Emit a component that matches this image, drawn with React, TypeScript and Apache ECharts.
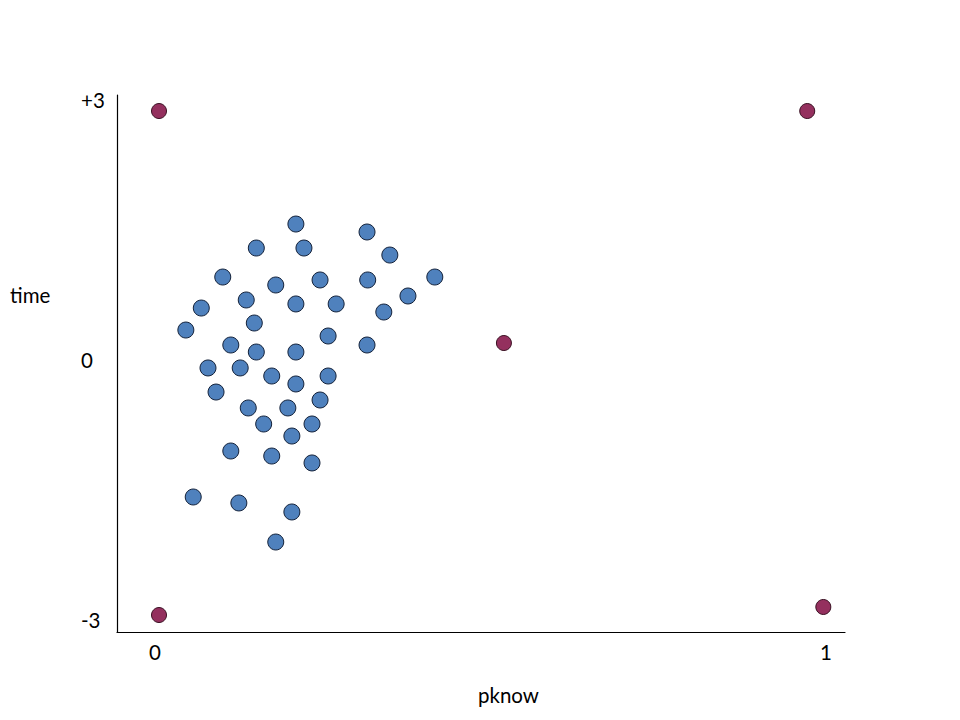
import React, { useEffect, useRef } from "react";
import * as echarts from "echarts";

// Blue cluster (pknow, time)
const blueX = [0.210, 0.316, 0.151, 0.222, 0.350, 0.101, 0.180, 0.246, 0.317, 0.417, 0.136, 0.210, 0.270, 0.377, 0.069, 0.341, 0.148, 0.046, 0.258, 0.113, 0.151, 0.210, 0.316, 0.079, 0.127, 0.174, 0.258, 0.210, 0.091, 0.246, 0.139, 0.198, 0.162, 0.234, 0.204, 0.113, 0.174, 0.234, 0.057, 0.125, 0.204, 0.180];
const blueY = [1.570, 1.478, 1.293, 1.293, 1.212, 0.958, 0.866, 0.924, 0.924, 0.958, 0.693, 0.647, 0.647, 0.739, 0.600, 0.554, 0.427, 0.346, 0.277, 0.173, 0.092, 0.092, 0.173, -0.092, -0.092, -0.185, -0.185, -0.277, -0.370, -0.462, -0.554, -0.554, -0.739, -0.739, -0.878, -1.051, -1.109, -1.189, -1.582, -1.651, -1.755, -2.102];

// Purple extreme points
const purpleX = [0.006, 0.972, 0.006, 0.996, 0.520];
const purpleY = [2.875, 2.875, -2.945, -2.852, 0.196];

const xTickValues = [0, 1];
const yTickValues = [-3, 0, 3];
const yTickLabels = ["-3", "0", "+3"];
const xName = "pknow";
const yName = "time";

const FONT = "Lato, 'Open Sans', sans-serif";
const FS = 20.5;

export default function App() {
  const ref = useRef<HTMLDivElement>(null);
  useEffect(() => {
    if (!ref.current) return;
    const chart = echarts.init(ref.current, null, { renderer: "svg" });
    chart.setOption({
      animation: false,
      backgroundColor: "#ffffff",
      grid: { left: 117, right: 115, top: 95, bottom: 88 },
      xAxis: {
        type: "value",
        min: -0.0566,
        max: 1.0283,
        splitLine: { show: false },
        axisTick: { show: false },
        axisLine: { show: true, onZero: false, lineStyle: { color: "#000", width: 1.2 } },
        axisLabel: {
          customValues: xTickValues,
          formatter: (v: number) => String(v),
          color: "#000",
          fontSize: FS,
          fontFamily: FONT,
          margin: 9,
        },
      },
      yAxis: {
        type: "value",
        min: -3.141,
        max: 3.06,
        splitLine: { show: false },
        axisTick: { show: false },
        axisLine: { show: true, onZero: false, lineStyle: { color: "#000", width: 1.2 } },
        axisLabel: {
          customValues: yTickValues,
          formatter: (v: number) => {
            const i = yTickValues.indexOf(Math.round(v));
            return i >= 0 ? yTickLabels[i] : "";
          },
          color: "#000",
          fontSize: FS,
          fontFamily: FONT,
          align: "left",
          margin: 36,
        },
      },
      graphic: [
        {
          type: "text",
          left: 10,
          top: 284,
          style: { text: yName, fontSize: FS, fontFamily: FONT, fill: "#000" },
        },
        {
          type: "text",
          left: 478,
          top: 684,
          style: { text: xName, fontSize: FS, fontFamily: FONT, fill: "#000" },
        },
      ],
      series: [
        {
          type: "scatter",
          data: blueX.map((x, i) => [x, blueY[i]]),
          symbolSize: 16,
          itemStyle: { color: "#4F81BD", borderColor: "#14223a", borderWidth: 1, opacity: 1 },
        },
        {
          type: "scatter",
          data: purpleX.map((x, i) => [x, purpleY[i]]),
          symbolSize: 15,
          itemStyle: { color: "#94305E", borderColor: "#3a1022", borderWidth: 1, opacity: 1 },
        },
      ],
    });
    return () => chart.dispose();
  }, []);
  return (
    <div
      ref={ref}
      style={{ position: "absolute", left: 0, top: 0, width: 960, height: 720 }}
    />
  );
}
